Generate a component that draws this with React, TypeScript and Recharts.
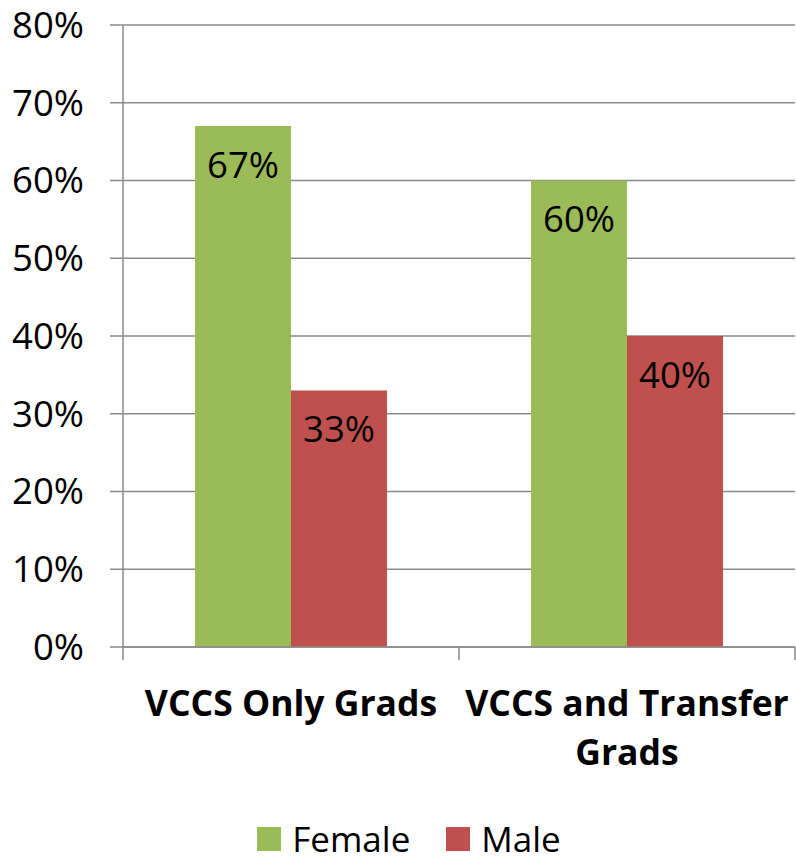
import React from "react";
import { BarChart, Bar, XAxis, YAxis, CartesianGrid, Legend, LabelList } from "recharts";

const categories = ["VCCS Only Grads", "VCCS and Transfer Grads"];
const categoryLines = [["VCCS Only Grads"], ["VCCS and Transfer", "Grads"]];
const femaleValues = [0.67, 0.6];
const maleValues = [0.33, 0.4];
const yTicks = [0, 0.1, 0.2, 0.3, 0.4, 0.5, 0.6, 0.7, 0.8];

const data = categories.map((c, i) => ({ name: c, Female: femaleValues[i], Male: maleValues[i] }));

const FONT = "'Open Sans', 'Liberation Sans', sans-serif";
const GREEN = "#9BBB59";
const RED = "#C0504D";
const AXIS = "#8a8a8a";

const pct = (v: number) => `${Math.round(v * 100)}%`;

const XTick = (props: any) => {
  const { x, y, payload, index } = props;
  const half = payload.offset || 168;
  const last = index === categories.length - 1;
  const lines = categoryLines[index] || [String(payload.value)];
  return (
    <g>
      <line x1={x - half} x2={x - half} y1={y} y2={y + 13} stroke={AXIS} strokeWidth={1.5} />
      {last && <line x1={x + half} x2={x + half} y1={y} y2={y + 13} stroke={AXIS} strokeWidth={1.5} />}
      <text x={x} y={y + 69} textAnchor="middle" style={{ fontFamily: FONT, fontSize: 35.5, fontWeight: 700, fill: "#000" }}>
        {lines.map((l: string, i: number) => (
          <tspan key={i} x={x} dy={i === 0 ? 0 : 49}>
            {l}
          </tspan>
        ))}
      </text>
    </g>
  );
};

const LegendContent = () => (
  <div style={{ width: 796, height: 46, display: "flex", justifyContent: "center", alignItems: "center", fontFamily: FONT, fontSize: 35, color: "#000", paddingLeft: 22, boxSizing: "border-box" }}>
    {[
      { n: "Female", c: GREEN },
      { n: "Male", c: RED },
    ].map((it, i) => (
      <div key={it.n} style={{ display: "flex", alignItems: "center", marginLeft: i ? 36 : 0 }}>
        <div style={{ width: 24, height: 24, background: it.c, marginRight: 11 }} />
        <span style={{ lineHeight: "46px", display: "block", height: 46 }}>{it.n}</span>
      </div>
    ))}
  </div>
);

export default function App() {
  return (
    <div style={{ position: "absolute", left: 0, top: 0, width: 796, height: 862, background: "#fff" }}>
      <BarChart
        width={796}
        height={862}
        data={data}
        margin={{ top: 25, right: 1, left: 0, bottom: 0 }}
        barCategoryGap={72}
        barGap={0}
      >
        <CartesianGrid vertical={false} stroke={AXIS} strokeWidth={1.5} />
        <YAxis
          width={123}
          domain={[0, 0.8]}
          ticks={yTicks}
          tickFormatter={pct}
          interval={0}
          axisLine={{ stroke: AXIS, strokeWidth: 1.5 }}
          tickLine={{ stroke: AXIS, strokeWidth: 1.5 }}
          tickSize={13}
          tickMargin={26}
          tick={{ fontFamily: FONT, fontSize: 36.5, fill: "#000" }}
        />
        <XAxis
          dataKey="name"
          height={169}
          interval={0}
          tickLine={false}
          tickSize={0}
          tickMargin={0}
          axisLine={{ stroke: AXIS, strokeWidth: 1.5 }}
          tick={<XTick />}
        />
        <Legend verticalAlign="bottom" content={<LegendContent />} />
        <Bar dataKey="Female" fill={GREEN} isAnimationActive={false}>
          <LabelList dataKey="Female" position="insideTop" offset={26} formatter={pct} style={{ fontFamily: FONT, fontSize: 36.5, fill: "#000" }} />
        </Bar>
        <Bar dataKey="Male" fill={RED} isAnimationActive={false}>
          <LabelList dataKey="Male" position="insideTop" offset={26} formatter={pct} style={{ fontFamily: FONT, fontSize: 36.5, fill: "#000" }} />
        </Bar>
      </BarChart>
    </div>
  );
}
